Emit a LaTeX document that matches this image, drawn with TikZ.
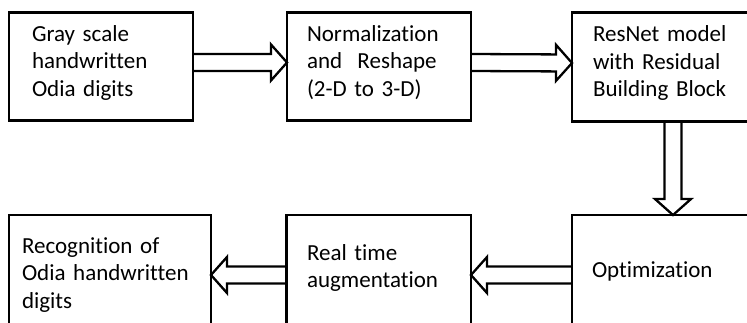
\documentclass[tikz,border=0pt]{standalone}
\usepackage{fontspec}
\setmainfont{Carlito}[Ligatures=NoCommon]
\usetikzlibrary{calc}
\tikzset{
  box/.style={draw=black, line width=2.5pt, rectangle, anchor=north west,
    outer sep=0pt, inner ysep=0pt, align=left,
    font=\fontsize{23}{27.5}\selectfont, text height=10pt},
  hollow/.style={draw=black, line width=2.3pt, line join=miter}
}
\newcommand\hollowarrow[2]{%
  \path ($(#2)!16pt!(#1)$) coordinate (hb);
  \draw[hollow] ($(#1)!8.5pt!90:(#2)$) -- ($(hb)!8.5pt!90:(#2)$)
    -- ($(hb)!18pt!90:(#2)$) -- (#2) -- ($(hb)!18pt!-90:(#2)$)
    -- ($(hb)!8.5pt!-90:(#2)$) -- ($(#1)!8.5pt!-90:(#2)$);
}
\begin{document}
\begin{tikzpicture}[x=1pt, y=-1pt]
\useasboundingbox (0,0) rectangle (747,322);
\clip (0,0) rectangle (747,322);
\fill[white] (0,0) rectangle (747,322);
% top row
\node[box, minimum width=184pt, minimum height=108pt, inner xsep=23pt, text width=138pt, text depth=61pt]
  (b1) at (9,12.5) {Gray scale\\handwritten\\Odia digits};
\node[box, minimum width=184pt, minimum height=108pt, inner xsep=20pt, text width=144pt, text depth=61pt]
  (b2) at (287,12.5) {Normalization\\and\ \ Reshape\\(2-D to 3-D)};
\node[box, minimum width=202pt, minimum height=109pt, inner xsep=21pt, text width=160pt, text depth=61pt]
  (b3) at (572,12.5) {ResNet model\\with Residual\\Building Block};
% bottom row
\node[box, minimum width=202pt, minimum height=120pt, inner xsep=13pt, text width=176pt, text depth=54pt]
  (b4) at (9,215) {Recognition of\\Odia handwritten\\digits};
\node[box, minimum width=184.5pt, minimum height=120pt, inner xsep=20.5pt, text width=143.5pt, text depth=40pt]
  (b5) at (286.5,215) {Real time\\augmentation};
\node[box, minimum width=202pt, minimum height=120pt, inner xsep=20pt, text width=162pt, text depth=6pt]
  (b6) at (572,215) {Optimization};
% connectors
\path ([yshift=4pt]b1.east) coordinate (s1) ([yshift=4pt]b2.west) coordinate (e1);
\hollowarrow{s1}{e1}
\path ([yshift=4pt]b2.east) coordinate (s2) ([yshift=4pt]b3.west) coordinate (e2);
\hollowarrow{s2}{e2}
\hollowarrow{b3.south}{b6.north}
\hollowarrow{b6.west}{b5.east}
\hollowarrow{b5.west}{b4.east}
\end{tikzpicture}
\end{document}
